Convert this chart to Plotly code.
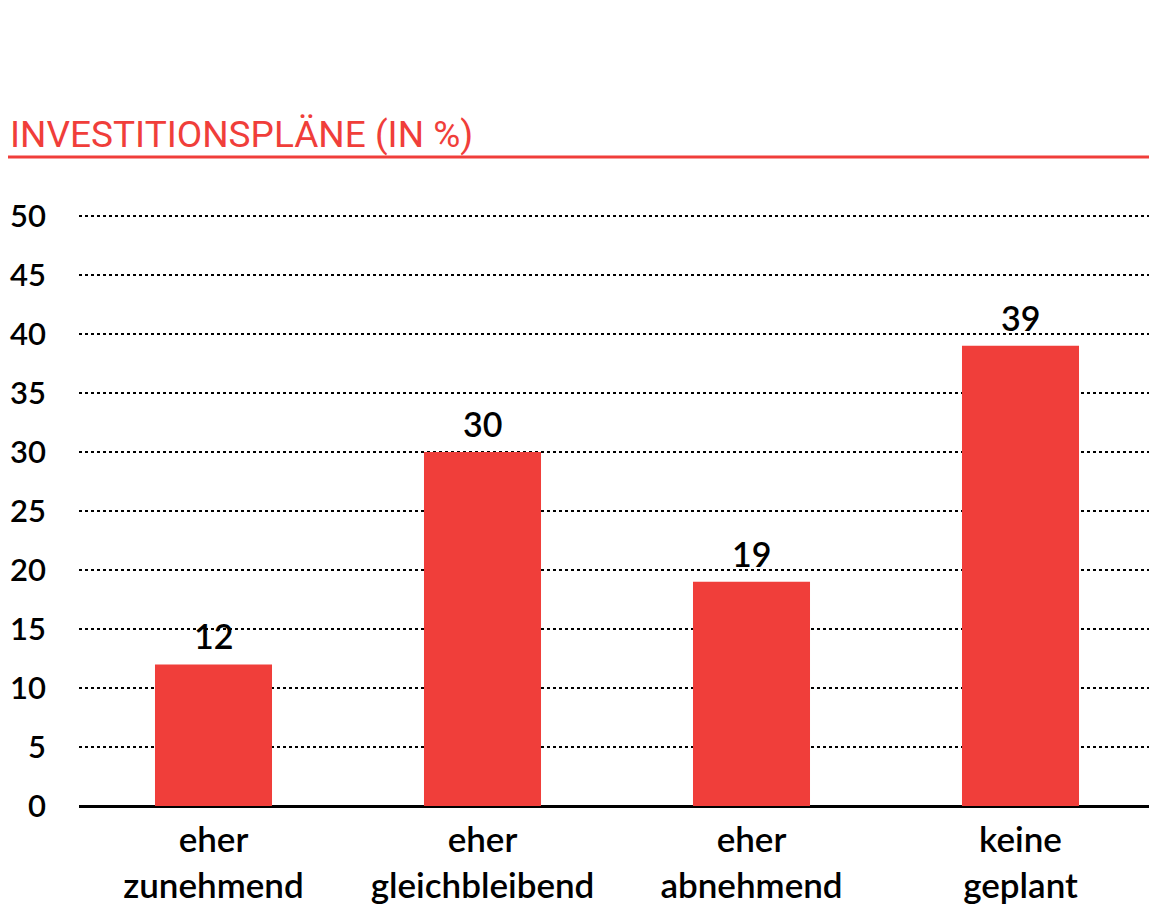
import plotly.graph_objects as go

# data
categories = ["eher<br>zunehmend", "eher<br>gleichbleibend", "eher<br>abnehmend", "keine<br>geplant"]
values = [12, 30, 19, 39]
y_ticks = [0, 5, 10, 15, 20, 25, 30, 35, 40, 45, 50]

red = "#F03E3A"
font = "Lato, Open Sans, sans-serif"

# page body has an 8px margin, so the figure is a bit smaller than the window
W, H = 1149, 907
L, R, T, B = 71, 2, 206, 109
plot_h = H - T - B

fig = go.Figure()
fig.add_trace(go.Bar(
    x=categories, y=values,
    marker=dict(color=red, line=dict(width=0)),
))

# value labels a little above the bars
for c, v in zip(categories, values):
    fig.add_annotation(x=c, y=v, text=str(v), showarrow=False, yanchor="bottom",
                       yshift=6, font=dict(size=34, color="black", family=font, weight=600))

fig.update_layout(
    width=W, height=H,
    margin=dict(l=L, r=R, t=T, b=B),
    paper_bgcolor="white", plot_bgcolor="white",
    bargap=0.565,
    showlegend=False,
    font=dict(family=font, color="black"),
    xaxis=dict(tickfont=dict(size=35, color="black", weight=600), showgrid=False,
               showline=False, ticks="", ticklabelstandoff=10),
    yaxis=dict(range=[0, 50.17], tickvals=y_ticks,
               tickfont=dict(size=31, color="black", weight=600),
               showgrid=True, gridcolor="black", griddash="dot", gridwidth=1.5,
               zeroline=True, zerolinecolor="black", zerolinewidth=3,
               showline=False, ticks="", ticklabelstandoff=32),
)

fig.add_annotation(text="INVESTITIONSPLÄNE (IN %)", xref="paper", yref="paper",
                   x=-L / (W - L - R), y=(H - B - 127) / plot_h,
                   xanchor="left", yanchor="middle", showarrow=False,
                   font=dict(size=37, color=red, family="Roboto, sans-serif"))
fig.add_shape(type="line", xref="paper", yref="paper", x0=-L / (W - L - R), x1=1.01,
              y0=(H - B - 149) / plot_h, y1=(H - B - 149) / plot_h,
              line=dict(color=red, width=3))

fig.write_html("out.html")
